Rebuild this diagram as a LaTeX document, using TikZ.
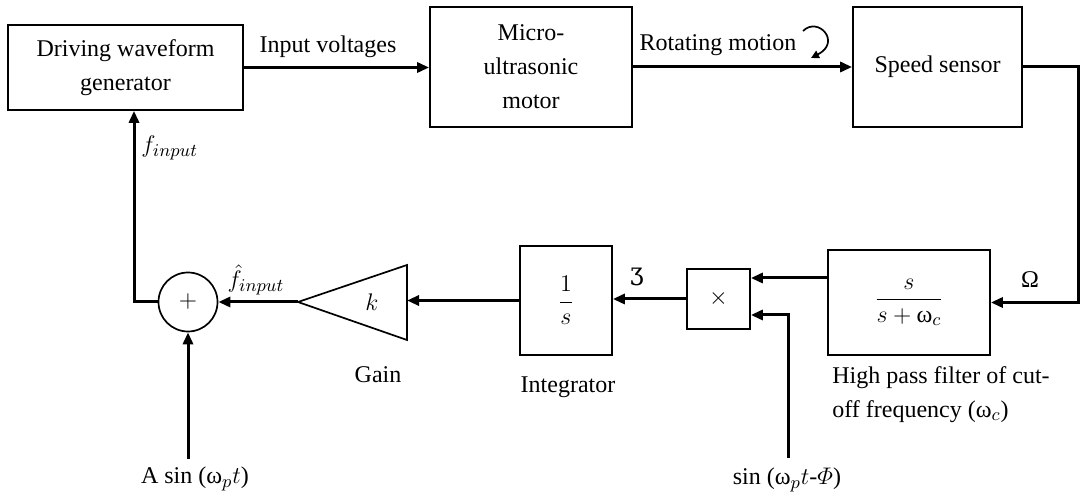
\documentclass[tikz,border=0pt]{standalone}
\usepackage{amsmath}
\usepackage{fontspec}
\setmainfont{Liberation Serif}
\newfontfamily\dvs{DejaVu Serif}
\DeclareMathSizes{12}{12.5}{9.5}{7.5}
\usetikzlibrary{arrows.meta}
\begin{document}
\begin{tikzpicture}[x=0.5pt,y=-0.5pt, font=\fontsize{12}{17}\selectfont,
  box/.style={draw, line width=0.85pt, align=center, inner sep=0pt},
  sig/.style={line width=1.5pt, -{Triangle[length=6pt,width=5pt]}},
  lab/.style={inner sep=0pt}]
\useasboundingbox (0,0) rectangle (1082,496);
% blocks
\node[box, minimum width=117.5pt, minimum height=42.5pt] (gen) at (125.5,67.5) {Driving waveform\\generator};
\node[box, minimum width=101pt, minimum height=60pt] (motor) at (531,67) {Micro-\\ultrasonic\\motor};
\node[box, minimum width=84.5pt, minimum height=60pt] (sensor) at (937.5,67) {Speed sensor};
\node[box, minimum width=81pt, minimum height=52.5pt] (hpf) at (909,302.5) {$\dfrac{s}{s+\mbox{ω}_c}$};
\node[box, minimum width=31.5pt, minimum height=30pt] (mult) at (718.5,299) {$\times$};
\node[box, minimum width=46pt, minimum height=54.5pt] (integ) at (566,300.5) {$\dfrac{1}{s}$};
\draw[line width=0.85pt] (298,302) coordinate (gainL) -- (407,265) -- (407,340) -- cycle;
\coordinate (gainR) at (407,302);
\node[lab] (k) at (372,302) {$k$};
\node[draw, circle, line width=0.85pt, minimum size=29.5pt, inner sep=0pt] (sum) at (188,302) {$+$};
% helper coordinates
\coordinate (c1) at (1078,67);
\coordinate (c2) at (1078,302.5);
\coordinate (m1) at ([yshift=10.5pt]mult.east);
\coordinate (m2) at ([yshift=-8pt]mult.east);
\coordinate (sinsrc) at (788,458);
\coordinate (fb) at (134,302);
\coordinate (asrc) at (188,459);
% connectors
\draw[sig] (gen.east) -- (motor.west |- gen.east);
\draw[sig] (motor.east) -- (sensor.west);
\draw[sig] (sensor.east) -- (c1) -- (c2) -- (hpf.east);
\draw[sig] (hpf.west |- m1) -- (m1);
\draw[sig] (sinsrc) |- (m2);
\draw[sig] (mult.west) -- (integ.east |- mult.west);
\draw[sig] (integ.west) -- (gainR |- integ.west);
\draw[sig] (gainL) -- (sum.east);
\draw[sig] (sum.west) -- (fb) -- (fb |- gen.south);
\draw[sig] (asrc) -- (sum.south);
% curly rotation arrow
\draw[line width=0.85pt, -{Triangle[length=4pt,width=4pt]}] (803,31) .. controls (818,16) and (842,42) .. (811,58);
% labels
\node[lab] (l1) at (328,47) {Input voltages};
\node[lab] (l2) at (718,45) {Rotating motion};
\node[lab] (l3) at (1030,280) {Ω};
\node[lab] (l4) at (637,277) {\dvs ʒ};
\node[lab] (l5) at (256,280) {$\hat{f}_{input}$};
\node[lab, anchor=west] (l6) at (141,148) {$f_{input}$};
\node[lab] (l7) at (378,375) {Gain};
\node[lab] (l8) at (568,387) {Integrator};
\node[lab, anchor=north west, align=left] (l9) at (832,366) {High pass filter of cut-\\off frequency (ω$_c$)};
\node[lab] (l10) at (787,480) {sin (ω$_p t$-$\varPhi$)};
\node[lab] (l11) at (195,479) {A sin (ω$_p t$)};
\end{tikzpicture}
\end{document}
